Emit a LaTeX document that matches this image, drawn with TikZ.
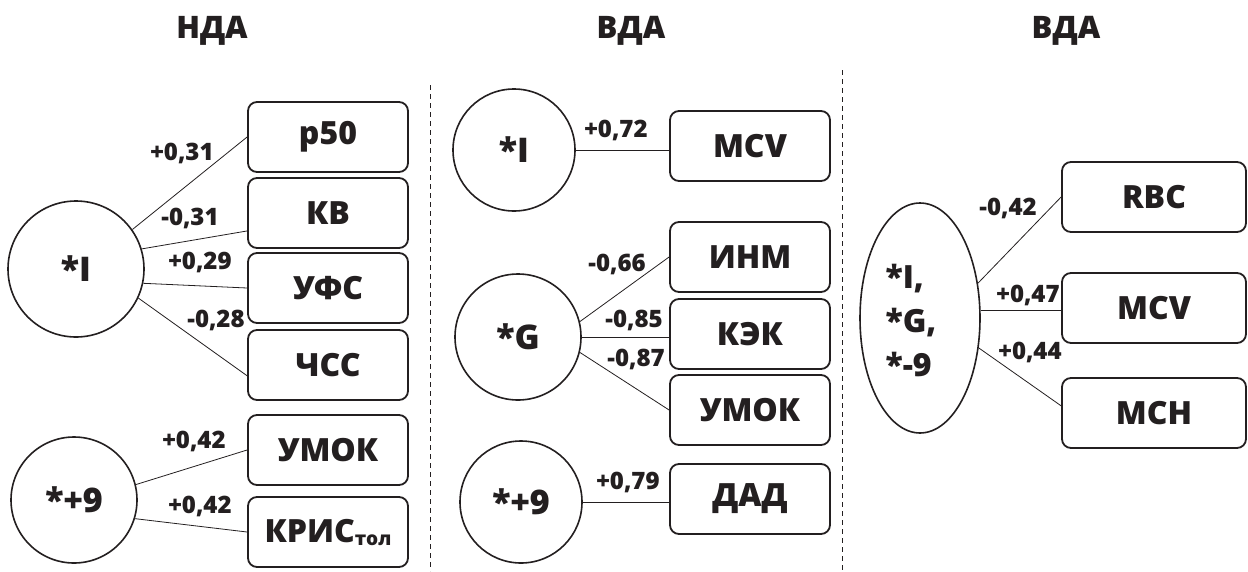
\documentclass[tikz,border=0pt]{standalone}
\usepackage{fontspec}
\IfFontExistsTF{Open Sans ExtraBold}{\setmainfont{Open Sans}[BoldFont={Open Sans ExtraBold}]}{%
 \IfFontExistsTF{Open Sans Extrabold}{\setmainfont{Open Sans}[BoldFont={Open Sans Extrabold}]}{\setmainfont{Open Sans}}}
\usetikzlibrary{shapes.geometric,calc}
\definecolor{ink}{HTML}{231F20}
\begin{document}
\begin{tikzpicture}[x=1pt,y=-1pt,
 title/.style={font=\fontsize{31}{36}\selectfont\bfseries, text=ink, anchor=base, inner sep=0pt},
 fac/.style={circle, draw=ink, line width=1.6pt, inner sep=0pt, font=\fontsize{34}{40}\selectfont\bfseries, text=ink},
 var/.style={draw=ink, rounded corners=9pt, line width=1.8pt, minimum width=160pt, minimum height=70pt, inner sep=0pt, font=\fontsize{32}{38}\selectfont\bfseries, text=ink},
 coef/.style={font=\fontsize{24}{28}\selectfont\bfseries, text=ink, inner sep=0pt},
 link/.style={draw=ink, line width=0.8pt},
 sep/.style={draw=ink, line width=1pt, dash pattern=on 5pt off 4pt},
]
\useasboundingbox (0,0) rectangle (1248,571);
% titles
\node[title] (t1) at (212,38) {НДА};
\node[title] (t2) at (631,38) {ВДА};
\node[title] (t3) at (1066,38) {ВДА};
% separators
\coordinate (d1t) at (430,85);
\coordinate (d1b) at (430,571);
\coordinate (d2t) at (842,70);
\coordinate (d2b) at (842,571);
\draw[sep] (d1t) -- (d1b);
\draw[sep] (d2t) -- (d2b);
% column 1
\node[fac, minimum size=136pt] (c1) at (76,269) {*I};
\node[fac, minimum size=126pt] (c2) at (74,500) {*+9};
\node[var] (p50) at (328,137) {р50};
\node[var] (kb) at (328,213) {КВ};
\node[var] (ufs) at (328,288) {УФС};
\node[var] (chss) at (328,365) {ЧСС};
\node[var] (umok) at (328,450) {УМОК};
\node[var] (kris) at (328,532) {КРИС{\fontsize{19}{20}\selectfont\raisebox{-3pt}{тол}}};
\draw[link] (c1.35) -- (p50.west);
\draw[link] (c1.17) -- ($(kb.west)!0.5!(kb.south west)$);
\draw[link] (c1.-12) -- (ufs.west);
\draw[link] (c1.-25) -- ($(chss.west)!0.3!(chss.south west)$);
\draw[link] (c2.14) -- (umok.west);
\draw[link] (c2.-17) -- (kris.west);
\node[coef] (l1) at (182,153) {+0,31};
\node[coef] (l2) at (190,218) {-0,31};
\node[coef] (l3) at (200,262) {+0,29};
\node[coef] (l4) at (216,320) {-0,28};
\node[coef] (l5) at (194,441) {+0,42};
\node[coef] (l6) at (200,506) {+0,42};
% column 2
\node[fac, minimum size=122pt] (c3) at (514,150) {*I};
\node[fac, minimum size=126pt] (c4) at (518,337) {*G};
\node[fac, minimum size=122pt] (c5) at (521,502) {*+9};
\node[var] (mcv) at (750,146) {MCV};
\node[var] (inm) at (750,257) {ИНМ};
\node[var] (kek) at (750,334) {КЭК};
\node[var] (umok2) at (750,410) {УМОК};
\node[var] (dad) at (750,499) {ДАД};
\draw[link] (c3.east) -- (c3.east -| mcv.west);
\draw[link] (c4.14) -- (inm.west);
\draw[link] (c4.east) -- (c4.east -| kek.west);
\draw[link] (c4.-14) -- (umok2.west);
\draw[link] (c5.east) -- (c5.east -| dad.west);
\node[coef] (l7) at (616,130) {+0,72};
\node[coef] (l8) at (617,264) {-0,66};
\node[coef] (l9) at (634,320) {-0,85};
\node[coef] (l10) at (636,359) {-0,87};
\node[coef] (l11) at (628,482) {+0,79};
% column 3
\node[ellipse, draw=ink, line width=1.6pt, inner sep=0pt, minimum width=120pt, minimum height=230pt] (el) at (920,318) {};
\node[align=left, inner sep=0pt, font=\fontsize{32}{44}\selectfont\bfseries, text=ink] (elt) at (911,320) {*I,\\*G,\\*-9};
\node[var, minimum width=184pt] (rbc) at (1154,197) {RBC};
\node[var, minimum width=184pt] (mcv3) at (1154,308) {MCV};
\node[var, minimum width=184pt] (mch) at (1154,413) {MCH};
\draw[link] (el.31) -- (rbc.west);
\draw[link] (el.7) -- (el.7 -| mcv3.west);
\draw[link] (el.-27) -- ($(mch.west)!0.2!(mch.north west)$);
\node[coef] (l12) at (1008,208) {-0,42};
\node[coef] (l13) at (1028,295) {+0,47};
\node[coef] (l14) at (1030,352) {+0,44};
\end{tikzpicture}
\end{document}
